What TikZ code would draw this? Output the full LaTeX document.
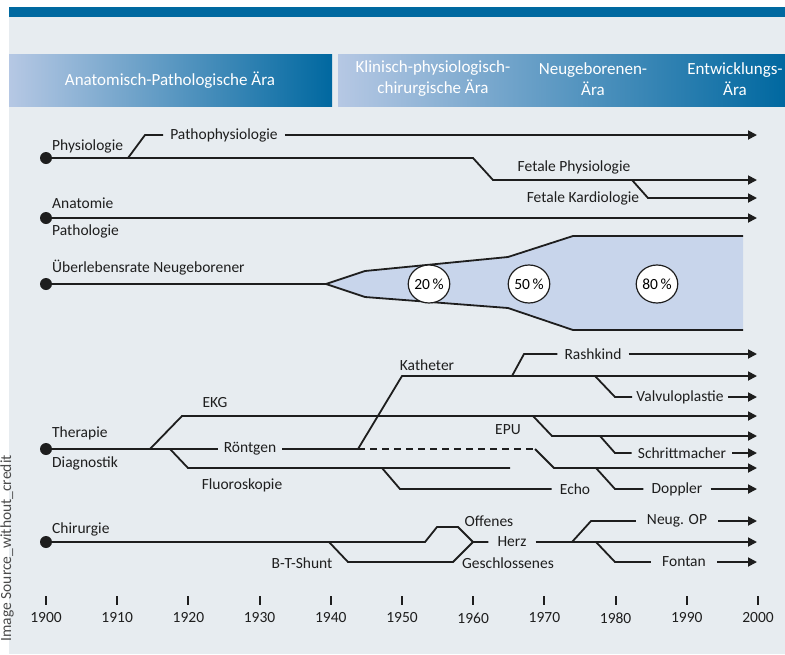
\documentclass[tikz,border=0pt]{standalone}
\usepackage{fontspec}
\setmainfont{Carlito}
\usetikzlibrary{arrows.meta, shapes.geometric}

\definecolor{panel}{HTML}{E7ECF0}
\definecolor{topblue}{HTML}{0069A0}
\definecolor{eralight}{HTML}{B6C8E4}
\definecolor{eradark}{HTML}{0068A0}
\definecolor{funnel}{HTML}{C8D5EB}
\definecolor{ink}{HTML}{1E1E1E}

\newcommand\lblfont{\fontsize{15.5}{18}\selectfont}
\newcommand\erafont{\fontsize{17}{21}\selectfont}

\tikzset{
    lbl/.style={font=\lblfont, text=ink, inner sep=0pt},
    gap/.style={lbl, inner xsep=7pt},
    era/.style={font=\erafont, text=white, align=center, inner sep=0pt},
    tl/.style={line width=1.8pt, draw=ink},
    tla/.style={tl, -{Triangle[length=9pt, width=9pt]}},
    startdot/.style={circle, fill=ink, inner sep=0pt, minimum size=12pt},
    pct/.style={ellipse, draw=ink, fill=white, line width=1.2pt, font=\lblfont,
                minimum width=33pt, minimum height=38pt, inner sep=0pt}
}

\begin{document}
\begin{tikzpicture}[x=1pt, y=-1pt]
    % Parameters
    \def\xend{757}
    \def\xzero{46}
    \def\dec{71.2}

    \useasboundingbox (0,0) rectangle (785,654);

    % Panel and header
    \fill[panel] (9,17) rectangle (785,654);
    \fill[topblue] (9,7) rectangle (785,17);
    \fill[left color=eralight, right color=eradark] (9,54) rectangle (332,106);
    \fill[left color=eralight, right color=eradark] (338,54) rectangle (785,106);
    \node[era] (anapath) at (170,80) {Anatomisch-Pathologische Ära};
    \node[era] (klinisch) at (433,79) {Klinisch-physiologisch-\\chirurgische Ära};
    \node[era] (neugeb) at (593,79) {Neugeborenen-\\Ära};
    \node[era] (entw) at (735,79) {Entwicklungs-\\Ära};

    % credit text along the left edge
    \node[font=\lblfont, text=ink!80, rotate=90, anchor=base east, inner sep=0pt]
        (credit) at (11,455) {Image Source\_without\_credit};

    % Physiologie
    \node[startdot] (phys) at (\xzero,158) {};
    \node[lbl, anchor=west] (physl) at (52,146) {Physiologie};
    \node[gap] (pathoph) at (224,135) {Pathophysiologie};
    \node[lbl] (fphys) at (574,167) {Fetale Physiologie};
    \node[lbl] (fkard) at (583,198) {Fetale Kardiologie};
    \draw[tla] (phys.center) -- (473,158) -- (493,180) -- (\xend,180);
    \draw[tl] (128,158) -- (145,135) -- (pathoph.west);
    \draw[tla] (pathoph.east) -- (\xend,135);
    \draw[tla] (632,180) -- (648,198) -- (\xend,198);

    % Anatomie / Pathologie
    \node[startdot] (anat) at (\xzero,218) {};
    \node[lbl, anchor=west] (anatl) at (52,203) {Anatomie};
    \node[lbl, anchor=west] (pathl) at (52,231) {Pathologie};
    \draw[tla] (anat.center) -- (\xend,218);

    % Ueberlebensrate
    \node[startdot] (ueber) at (\xzero,284) {};
    \node[lbl, anchor=west] (ueberl) at (52,268) {Überlebensrate Neugeborener};
    \fill[funnel] (326,284) -- (365,271) -- (508,257) -- (573,236) -- (743,236)
        -- (743,330) -- (573,330) -- (508,308) -- (365,297) -- cycle;
    \draw[tl] (ueber.center) -- (326,284) -- (365,271) -- (508,257) -- (573,236) -- (743,236);
    \draw[tl] (326,284) -- (365,297) -- (508,308) -- (573,330) -- (743,330);
    \node[pct] (p20) at (429,284) {20\,\%};
    \node[pct] (p50) at (529,284) {50\,\%};
    \node[pct] (p80) at (657,284) {80\,\%};

    % Therapie / Diagnostik
    \node[startdot] (ther) at (\xzero,449) {};
    \node[lbl, anchor=west] (therl) at (52,433) {Therapie};
    \node[lbl, anchor=west] (diagl) at (52,463) {Diagnostik};
    \node[gap, inner xsep=6pt] (roentgen) at (250,449) {Röntgen};
    \node[lbl] (ekg) at (215,403) {EKG};
    \node[lbl] (fluoro) at (242,485) {Fluoroskopie};
    \node[lbl] (kath) at (427,365) {Katheter};
    \node[lbl] (epu) at (508,430) {EPU};
    \node[gap, inner xsep=8pt] (echo) at (575,489) {Echo};
    \node[gap] (rash) at (593,354) {Rashkind};
    \node[gap, inner xsep=4pt] (valv) at (680,397) {Valvuloplastie};
    \node[gap, inner xsep=6pt] (schritt) at (682,453) {Schrittmacher};
    \node[gap, inner xsep=8pt] (doppler) at (677,489) {Doppler};
    \draw[tl] (ther.center) -- (roentgen.west);
    \draw[tl] (roentgen.east) -- (358,449);
    \draw[tla] (150,449) -- (182,416) -- (\xend,416);
    \draw[tl] (170,449) -- (188,468) -- (510,468);
    \draw[tl] (382,468) -- (400,489) -- (echo.west);
    \draw[tla] (358,449) -- (402,376) -- (\xend,376);
    \draw[tl] (512,376) -- (524,354) -- (rash.west);
    \draw[tla] (rash.east) -- (\xend,354);
    \draw[tl] (595,376) -- (615,397) -- (valv.west);
    \draw[tla] (valv.east) -- (\xend,397);
    \draw[tla] (533,416) -- (552,436) -- (\xend,436);
    \draw[tl] (600,436) -- (615,453) -- (schritt.west);
    \draw[tla] (schritt.east) -- (\xend,453);
    \draw[tl, dash pattern=on 7pt off 5pt] (358,449) -- (535,449);
    \draw[tla] (535,449) -- (554,468) -- (\xend,468);
    \draw[tl] (596,468) -- (615,489) -- (doppler.west);
    \draw[tla] (doppler.east) -- (\xend,489);

    % Chirurgie
    \node[startdot] (chir) at (\xzero,542) {};
    \node[lbl, anchor=west] (chirl) at (52,529) {Chirurgie};
    \node[lbl] (btshunt) at (302,563) {B-T-Shunt};
    \node[lbl] (offen) at (489,521) {Offenes};
    \node[lbl] (geschl) at (508,563) {Geschlossenes};
    \node[gap, inner xsep=9pt] (herz) at (512,542) {Herz};
    \node[gap, inner xsep=11pt] (neugop) at (677,521) {Neug. OP};
    \node[gap, inner xsep=11pt] (fontan) at (684,562) {Fontan};
    \draw[tl] (chir.center) -- (425,542) -- (437,527) -- (458,527) -- (473,542) -- (herz.west);
    \draw[tl] (329,542) -- (348,562) -- (453,562) -- (473,542);
    \draw[tla] (herz.east) -- (\xend,542);
    \draw[tl] (572,542) -- (591,521) -- (neugop.west);
    \draw[tla] (neugop.east) -- (\xend,521);
    \draw[tl] (596,542) -- (615,562) -- (fontan.west);
    \draw[tla] (fontan.east) -- (\xend,562);

    % Time axis
    \foreach \yr [count=\i from 0] in {1900,1910,...,2000} {
        \draw[line width=2pt, ink] ({\xzero+\dec*\i},596) -- ({\xzero+\dec*\i},605);
        \node[lbl] (yr\yr) at ({\xzero+\dec*\i},618) {\yr};
    }
\end{tikzpicture}
\end{document}
